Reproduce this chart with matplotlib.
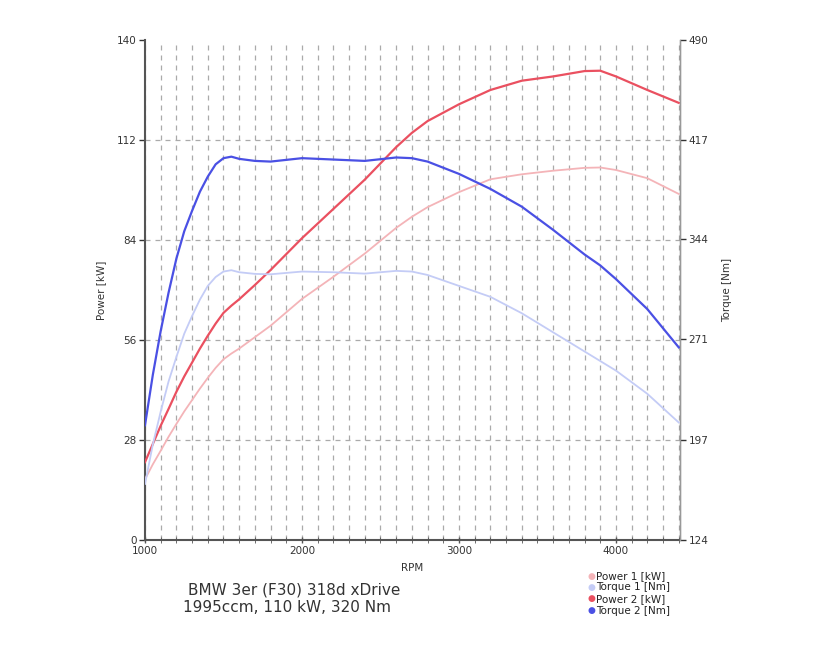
import numpy as np
import matplotlib
matplotlib.use("Agg")
import matplotlib.pyplot as plt
from matplotlib.ticker import MultipleLocator

# Data
rpm = [1000, 1050, 1100, 1150, 1200, 1250, 1300, 1350, 1400, 1450, 1500, 1550,
       1600, 1700, 1800, 2000, 2200, 2400, 2600, 2700, 2800, 3000, 3200, 3400,
       3600, 3800, 3900, 4000, 4200, 4400]
power_1 = [17, 21.2, 25, 28.9, 32.5, 36, 39.2, 42.4, 45.4, 48.2, 50.6, 52.2,
           53.6, 56.8, 60, 67.5, 73.7, 80.2, 87.4, 90.5, 93.2, 97.4, 101, 102.4,
           103.4, 104.2, 104.3, 103.6, 101.3, 96.9]
torque_1 = [165, 194, 218, 240, 258, 275, 288, 300, 310, 316.5, 320.5, 321.5,
            320, 318.8, 318.5, 320.5, 320, 319, 321, 320.5, 318, 310, 302, 290,
            276, 262, 255, 248, 231, 210]
power_2 = [21.8, 26.9, 32, 36.7, 41.5, 45.8, 49.7, 53.6, 57.2, 60.6, 63.6, 65.6,
           67.4, 71.4, 75.6, 84.5, 92.7, 100.9, 110, 114, 117.3, 122, 126, 128.6,
           129.8, 131.3, 131.4, 129.8, 126, 122.4]
torque_2 = [208, 245, 277, 305, 330, 350, 365, 379, 390, 399, 403.5, 404.6,
            403, 401.5, 401, 403.5, 402.5, 401.5, 404, 403.5, 401, 392, 381, 368,
            351, 333, 325, 315, 293, 265]

left_ticks = [0, 28, 56, 84, 112, 140]
right_ticks = [124, 197, 271, 344, 417, 490]

c_p1 = "#f4b4b8"
c_t1 = "#c4ccf6"
c_p2 = "#ea5060"
c_t2 = "#4a50e4"

fig = plt.figure(figsize=(8.2, 6.5), dpi=100)
ax = fig.add_axes([145 / 820, 1 - 540 / 650, 535 / 820, 500 / 650])
ax2 = ax.twinx()

ax.set_xlim(1000, 4408)
ax.set_ylim(0, 140)
ax2.set_ylim(124, 490)

ax.xaxis.set_major_locator(MultipleLocator(1000))
ax.xaxis.set_minor_locator(MultipleLocator(100))
ax.set_yticks(left_ticks)
ax2.set_yticks(right_ticks)

# dashed grid: every 100 rpm, and the inner power ticks
grid_style = dict(color="#aaaaaa", linestyle=(0, (4, 4)), linewidth=0.9, zorder=1)
ax.grid(True, which="both", axis="x", **grid_style)
for v in left_ticks[1:-1]:
    ax.axhline(v, **grid_style)

ax.plot(rpm, power_1, color=c_p1, lw=1.3, zorder=3)
ax2.plot(rpm, torque_1, color=c_t1, lw=1.3, zorder=3)
ax.plot(rpm, power_2, color=c_p2, lw=1.6, zorder=4)
ax2.plot(rpm, torque_2, color=c_t2, lw=1.6, zorder=4)

for a in (ax, ax2):
    a.spines["top"].set_visible(False)
ax.spines["left"].set_color("#555555")
ax.spines["left"].set_linewidth(1.5)
ax.spines["bottom"].set_color("#555555")
ax.spines["bottom"].set_linewidth(1.5)
ax2.spines["right"].set_color("#999999")
ax2.spines["right"].set_linewidth(1.0)
ax2.spines["left"].set_visible(False)
ax2.spines["bottom"].set_visible(False)

ax.tick_params(axis="both", which="major", labelsize=7.5, colors="#333333",
               length=4, width=1, direction="out", pad=2)
ax.tick_params(axis="x", which="both", direction="inout", length=5, color="#555555")
ax.tick_params(axis="x", which="minor", length=4)
ax2.tick_params(axis="y", labelsize=7.5, colors="#333333", length=4, width=1,
                direction="out", pad=2)

ax.set_xlabel("RPM", fontsize=7.5, color="#333333", labelpad=5)
ax.set_ylabel("Power [kW]", fontsize=7.5, color="#333333", labelpad=8)
ax2.set_ylabel("Torque [Nm]", fontsize=7.5, color="#333333", labelpad=10)

fig.text(188 / 820, 1 - 590 / 650, "BMW 3er (F30) 318d xDrive", fontsize=11,
         color="#333333", va="center")
fig.text(183 / 820, 1 - 608 / 650, "1995ccm, 110 kW, 320 Nm", fontsize=11,
         color="#333333", va="center")

labels = ["Power 1 [kW]", "Torque 1 [Nm]", "Power 2 [kW]", "Torque 2 [Nm]"]
colors = [c_p1, c_t1, c_p2, c_t2]
for i, (lab, col) in enumerate(zip(labels, colors)):
    y = 1 - (576 + i * 11.5) / 650
    fig.text(591 / 820, y, "\u25cf", color=col, fontsize=6.5, va="center", ha="center")
    fig.text(596 / 820, y, lab, color="#222222", fontsize=7.5, va="center")

fig.savefig("out.png", dpi=100)
